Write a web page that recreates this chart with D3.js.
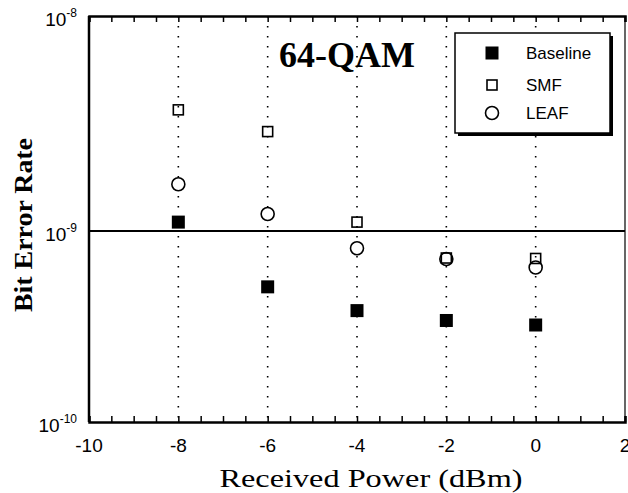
<!DOCTYPE html>
<html>
<head>
<meta charset="utf-8">
<script src="https://cdn.jsdelivr.net/npm/d3@7"></script>
<style>
  body { margin: 0; background: #fff; }
  svg { display: block; }
</style>
</head>
<body>
<div id="chart-container"></div>
<script>
// Chart data
const powers = [-8, -6, -4, -2, 0];
const baseline = [1.10e-9, 5.1e-10, 3.83e-10, 3.40e-10, 3.22e-10];
const smf = [3.66e-9, 2.90e-9, 1.10e-9, 7.22e-10, 7.18e-10];
const leaf = [1.65e-9, 1.20e-9, 8.12e-10, 7.13e-10, 6.44e-10];
const xTicks = [-10, -8, -6, -4, -2, 0, 2];
const yTicks = [1e-10, 1e-9, 1e-8];
const yTickLabels = ["-10", "-9", "-8"];
const legendNames = ["Baseline", "SMF", "LEAF"];

// Set dimensions and margins for the chart
const margin = { top: 16, right: 3, bottom: 71, left: 89 };
const width = 628 - margin.left - margin.right;
const height = 493 - margin.top - margin.bottom;

// Scales (the scanned y axis is a little uneven, so a piecewise log scale)
const x = d3.scaleLinear().domain([-10, 2]).range([0, width]);
const y = d3.scaleLog().domain([1e-10, 1e-9, 1e-8]).range([height, 215, 0]);

const svg = d3.select("#chart-container")
  .append("svg")
  .attr("width", width + margin.left + margin.right)
  .attr("height", height + margin.top + margin.bottom)
  .append("g")
  .attr("transform", `translate(${margin.left},${margin.top})`);

// Dotted vertical guides
svg.selectAll(".guide")
  .data(powers)
  .enter().append("line")
  .attr("x1", d => x(d))
  .attr("x2", d => x(d))
  .attr("y1", 0)
  .attr("y2", height)
  .attr("stroke", "black")
  .attr("stroke-width", 1.6)
  .attr("stroke-dasharray", "1.6 8.4");

// 1e-9 reference line
svg.append("line")
  .attr("x1", 0).attr("x2", width)
  .attr("y1", y(1e-9)).attr("y2", y(1e-9))
  .attr("stroke", "black")
  .attr("stroke-width", 2);

// Minor ticks every 0.5 dBm on top and bottom
const minor = d3.range(-10, 2.01, 0.5);
const bottomAxis = svg.append("g")
  .attr("transform", `translate(0,${height})`)
  .call(d3.axisBottom(x).tickValues(minor).tickSize(-6).tickFormat(""));
const topAxis = svg.append("g")
  .call(d3.axisTop(x).tickValues(minor).tickSize(-6).tickFormat(""));
[bottomAxis, topAxis].forEach(a => {
  a.select(".domain").attr("stroke-width", 2.5);
  a.selectAll(".tick line").attr("stroke-width", 1.5);
});

// Left and right frame
svg.append("line")
  .attr("x1", 0).attr("x2", 0).attr("y1", 0).attr("y2", height)
  .attr("stroke", "black").attr("stroke-width", 2.5);
svg.append("line")
  .attr("x1", width).attr("x2", width).attr("y1", 0).attr("y2", height)
  .attr("stroke", "black").attr("stroke-width", 1.2);

// X tick labels
svg.selectAll(".xlab")
  .data(xTicks)
  .enter().append("text")
  .attr("x", d => x(d))
  .attr("y", height + 30)
  .attr("text-anchor", "middle")
  .style("font-family", "Liberation Sans, Arial, sans-serif")
  .style("font-size", "19px")
  .text(d => d);

// Y tick labels as 10^n
const ylab = svg.selectAll(".ylab")
  .data(yTicks)
  .enter().append("text")
  .attr("x", -12)
  .attr("y", d => y(d) + 10)
  .attr("text-anchor", "end")
  .style("font-family", "Liberation Sans, Arial, sans-serif")
  .style("font-size", "19px");
ylab.append("tspan").text("10");
ylab.append("tspan")
  .attr("dy", -9)
  .style("font-size", "12px")
  .text((d, i) => yTickLabels[i]);

// Axis titles
svg.append("text")
  .attr("x", 282)
  .attr("y", height + 65)
  .attr("text-anchor", "middle")
  .attr("textLength", 303)
  .attr("lengthAdjust", "spacingAndGlyphs")
  .style("font-family", "Liberation Serif, Times New Roman, serif")
  .style("font-size", "26px")
  .text("Received Power (dBm)");

svg.append("text")
  .attr("transform", `translate(${-57},${209}) rotate(-90)`)
  .attr("text-anchor", "middle")
  .attr("textLength", 174)
  .attr("lengthAdjust", "spacingAndGlyphs")
  .style("font-family", "Liberation Serif, Times New Roman, serif")
  .style("font-weight", "bold")
  .style("font-size", "26px")
  .text("Bit Error Rate");

// Chart label
svg.append("text")
  .attr("x", 190)
  .attr("y", 51)
  .style("font-family", "Liberation Serif, Times New Roman, serif")
  .style("font-weight", "bold")
  .style("font-size", "36px")
  .text("64-QAM");

// Marker drawers
function filledSquare(g, cx, cy) {
  g.append("rect")
    .attr("x", cx - 6.5).attr("y", cy - 6.5)
    .attr("width", 13).attr("height", 13)
    .attr("fill", "black");
}
function openSquare(g, cx, cy) {
  g.append("rect")
    .attr("x", cx - 5).attr("y", cy - 5)
    .attr("width", 10).attr("height", 10)
    .attr("fill", "none")
    .attr("stroke", "black")
    .attr("stroke-width", 1.6);
}
function openCircle(g, cx, cy) {
  g.append("circle")
    .attr("cx", cx).attr("cy", cy).attr("r", 6.5)
    .attr("fill", "white")
    .attr("stroke", "black")
    .attr("stroke-width", 1.6);
}

// Data points
const pts = svg.append("g");
powers.forEach((p, i) => {
  openCircle(pts, x(p), y(leaf[i]));
  openSquare(pts, x(p), y(smf[i]));
  filledSquare(pts, x(p), y(baseline[i]));
});

// Legend with drop shadow
const legend = svg.append("g").attr("transform", "translate(366,17)");
legend.append("rect")
  .attr("x", 3).attr("y", 3)
  .attr("width", 155).attr("height", 100)
  .attr("fill", "black");
legend.append("rect")
  .attr("x", 0).attr("y", 0)
  .attr("width", 155).attr("height", 100)
  .attr("fill", "white")
  .attr("stroke", "black")
  .attr("stroke-width", 1.5);
const markers = [filledSquare, openSquare, openCircle];
const rowY = [20, 52, 80];
legendNames.forEach((name, i) => {
  markers[i](legend, 37, rowY[i]);
  legend.append("text")
    .attr("x", 71)
    .attr("y", rowY[i] + 6)
    .style("font-family", "Liberation Sans, Arial, sans-serif")
    .style("font-size", "17px")
    .text(name);
});
</script>
</body>
</html>
